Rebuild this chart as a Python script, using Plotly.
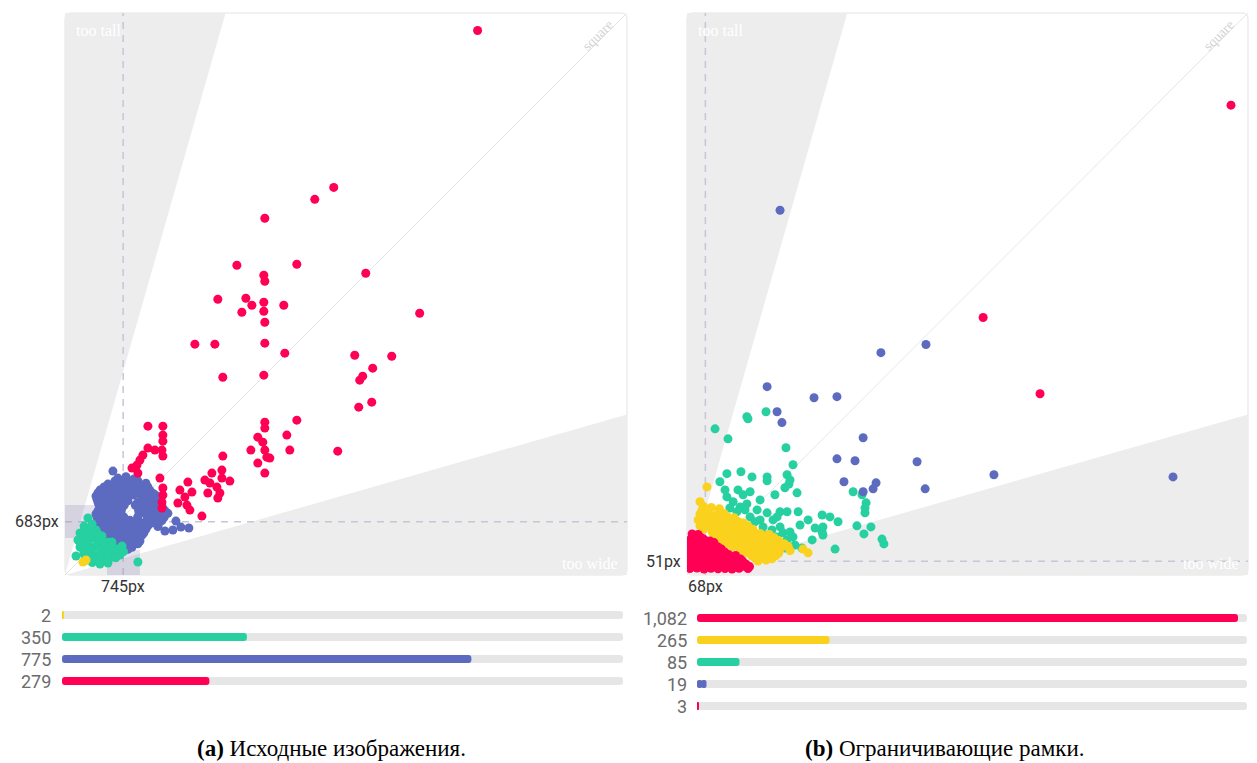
import plotly.graph_objects as go

W, H = 1257, 763


def px(x):
    return x / W


def py(y):
    return 1 - y / H


RED = "#ff0055"
BLUE = "#5c6bc0"
GREEN = "#26d0a0"
YELLOW = "#fad21e"
TRACK = "#e6e6e6"
WEDGE = "#ededed"
DASH = "#c9c4d8"

# ---------------- (a) original image sizes, width x height in px ----------------
a_range = 7200
a_median_w, a_median_h = 745, 683

a_yellow_w = [230, 269]
a_yellow_h = [166, 192]

a_green_w = [294, 243, 346, 192, 294, 397, 166, 269, 371, 474, 192, 294, 397, 499, 602,
             243, 346, 448, 550, 653, 730, 294, 397, 499, 602, 704, 448, 550, 934, 141,
             250, 340, 230, 320, 420, 200, 300, 450, 550, 240, 340, 500, 600, 680,
             260, 350, 450, 550, 650, 350, 450, 550, 650, 750]
a_green_h = [730, 627, 653, 538, 550, 576, 448, 448, 474, 499, 358, 358, 371, 397, 422,
             269, 269, 282, 307, 333, 371, 192, 192, 205, 230, 256, 141, 154, 166, 243,
             580, 600, 490, 510, 530, 400, 400, 440, 420, 310, 320, 350, 370, 330,
             230, 230, 240, 260, 290, 160, 170, 190, 220, 300]

a_blue_w = [678, 781, 883,
            550, 627, 730, 832, 934, 1037,
            448, 525, 602, 704, 806, 909, 1011, 1088,
            397, 499, 576, 678, 781, 883, 986, 1088, 1165,
            422, 525, 627, 704, 806, 934, 1037, 1139, 1216,
            448, 550, 653, 730, 935, 1062, 1165, 1254,
            397, 499, 602, 704, 950, 1011, 1114, 1216, 1318,
            422, 525, 627, 730, 832, 934, 1037, 1139, 1242,
            448, 550, 653, 755, 858, 960, 1062, 1190,
            499, 602, 704, 806, 909, 1011,
            550, 653, 755, 858, 960,
            627, 730, 832, 934,
            704, 806,
            640, 730, 832, 934,
            500, 576, 678, 781, 883, 986, 1062,
            422, 474, 550, 653, 755, 858, 960, 1050, 1130,
            410, 474, 576, 653, 730, 986, 1088, 1190,
            435, 499, 576, 678, 760, 900, 986, 1088, 1190, 1240,
            422, 525, 627, 720, 945, 1062, 1165, 1280,
            410, 474, 550, 653, 755, 930, 1062, 1165, 1270,
            435, 499, 602, 704, 806, 909, 1011, 1114, 1200,
            474, 576, 653, 755, 858, 960, 1037,
            525, 627, 704, 806, 909, 990,
            590, 678, 781, 883, 960,
            665, 755, 858,
            614, 1382, 1485, 1587, 1421, 1280]
a_blue_h = [1242, 1260, 1230,
            1165, 1150, 1180, 1170, 1155, 1175,
            1088, 1100, 1075, 1095, 1080, 1090, 1070, 1085,
            1011, 1020, 1000, 1015, 1005, 1025, 1010, 995, 1020,
            934, 945, 925, 940, 950, 930, 950, 935, 920,
            858, 865, 850, 858, 858, 845, 870, 855,
            781, 790, 775, 785, 781, 795, 780, 760, 790,
            704, 710, 695, 715, 700, 705, 690, 712, 698,
            627, 620, 635, 625, 640, 615, 630, 622,
            550, 560, 545, 555, 548, 540,
            474, 480, 468, 478, 470,
            397, 405, 392, 400,
            320, 330,
            1204, 1210, 1200, 1206,
            1127, 1120, 1132, 1125, 1130, 1122, 1128,
            1050, 1045, 1055, 1048, 1052, 1046, 1054, 1050, 1044,
            972, 978, 968, 975, 970, 976, 966, 974,
            896, 900, 892, 898, 896, 896, 894, 899, 893, 897,
            820, 825, 815, 820, 820, 822, 818, 824,
            742, 748, 738, 745, 742, 742, 740, 746, 739,
            666, 670, 662, 668, 664, 669, 663, 667, 661,
            588, 592, 585, 590, 586, 591, 587,
            512, 516, 509, 514, 510, 515,
            436, 440, 433, 438, 434,
            358, 362, 355,
            1331, 576, 614, 602, 691, 563]

a_red_w = [5286, 3443, 3200, 2560, 2202, 2970, 3853, 2547, 2560, 1958,
           2317, 2394, 2266, 2547, 2547, 2560, 2803, 4544, 1664, 1920,
           2560, 2816, 3712, 4186, 3942, 3814, 3776, 3930, 3763, 2022, 2547,
           1062, 1254, 1254, 1254, 1062, 1152, 1242, 1254, 998, 960,
           922, 858, 934, 1216, 1254, 1254, 1242, 1242, 1472, 1574,
           1626, 1536, 1446, 1562, 1600, 1754, 1792, 1882, 2010, 2010,
           1856, 1946, 1984, 1958, 1830, 2112, 2022, 2381, 2560, 2560,
           2470, 2534, 2560, 2586, 2624, 2470, 2560, 2970, 2842, 2880, 3494]
a_red_h = [6976, 4966, 4813, 4570, 3968, 3981, 3866, 3840, 3763, 3533,
           3546, 3456, 3366, 3494, 3379, 3238, 3456, 3354, 2957, 2957,
           2970, 2842, 2816, 2803, 2650, 2547, 2496, 2214, 2150, 2534, 2560,
           1907, 1907, 1792, 1715, 1626, 1600, 1600, 1523, 1536, 1472,
           1408, 1370, 1306, 1242, 1114, 1024, 934, 858, 1088, 1190,
           1062, 998, 922, 896, 832, 755, 1216, 1306, 1344, 1242,
           1178, 1126, 1050, 986, 1050, 1203, 1523, 1600, 1958, 1882,
           1766, 1702, 1600, 1510, 1498, 1434, 1306, 1984, 1792, 1600, 1587]

a_counts = [2, 350, 775, 279]
a_colors = [YELLOW, GREEN, BLUE, RED]
a_count_max = 1062

# ---------------- (b) bounding box sizes, width x height in px ----------------
b_range = 2080
b_median_w, b_median_h = 68, 51

b_green_w = [104, 152, 222, 226, 293, 367, 393, 148, 200, 241,
             297, 297, 371, 382, 378, 122, 189, 208, 148, 171,
             197, 222, 159, 185, 260, 234, 271, 297, 319, 345,
             334, 371, 282, 315, 345, 356, 382, 393, 371, 334,
             412, 449, 408, 326, 363, 501, 530, 560, 504, 501,
             504, 616, 649, 664, 660, 660, 630, 682, 656, 723,
             730, 549, 426, 141, 234, 271, 215, 252, 289, 326,
             363, 400, 464, 419, 475]
b_green_h = [541, 504, 586, 578, 604, 471, 408, 375, 382, 363,
             363, 349, 371, 352, 337, 345, 315, 297, 289, 271,
             252, 263, 248, 234, 241, 215, 204, 230, 204, 234,
             215, 234, 178, 167, 178, 156, 159, 141, 130, 141,
             234, 204, 304, 297, 323, 222, 215, 197, 178, 159,
             148, 308, 297, 267, 248, 230, 182, 178, 152, 133,
             115, 96, 100, 315, 308, 278, 241, 197, 148, 111,
             100, 111, 130, 185, 174]

b_yellow_w = [74, 48, 56, 449, 430, 60, 90, 120,
              48, 78, 108, 137,
              41, 70, 100, 130, 159, 189,
              48, 78, 108, 137, 167, 197, 226,
              93, 122, 152, 182, 211, 241, 271,
              115, 145, 174, 204, 234, 263, 293, 323,
              152, 182, 211, 241, 271, 300, 330, 360,
              197, 226, 256, 286, 315, 345, 382,
              241, 271, 300, 330,
              263, 293,
              60, 90, 120, 150, 175,
              55, 85, 115, 145, 175, 210,
              62, 92, 122, 152, 182, 212, 245,
              100, 130, 160, 190, 220, 250, 280, 305,
              130, 160, 190, 220, 250, 280, 310, 340,
              170, 200, 230, 260, 290, 320, 350, 375,
              220, 250, 280, 310, 340,
              255, 285, 315]
b_yellow_h = [326, 271, 241, 82, 96, 255, 250, 245,
              226, 230, 222, 228,
              204, 200, 208, 202, 206, 198,
              182, 186, 178, 184, 180, 176, 182,
              159, 163, 155, 161, 157, 160, 154,
              137, 141, 133, 139, 135, 140, 132, 138,
              115, 119, 111, 117, 113, 118, 110, 116,
              93, 97, 89, 95, 91, 96, 90,
              70, 74, 68, 72,
              52, 55,
              215, 217, 213, 216, 212,
              193, 195, 191, 194, 190, 192,
              170, 172, 168, 171, 167, 170, 169,
              148, 150, 146, 149, 145, 148, 147, 150,
              126, 128, 124, 127, 123, 126, 125, 128,
              104, 106, 102, 105, 101, 104, 103, 106,
              82, 84, 80, 83, 81,
              61, 63, 60]

b_red_w = [19, 41,
           11, 37, 63, 85,
           11, 37, 63, 89, 115,
           11, 37, 63, 89, 115, 141,
           11, 37, 63, 89, 115, 141, 167, 197,
           11, 37, 63, 89, 115, 141, 167, 193, 219,
           11, 37, 63, 89, 115, 141, 167, 193, 226,
           26, 52,
           24, 50, 76, 100,
           24, 50, 76, 102, 128,
           24, 50, 76, 102, 128, 154, 180,
           24, 50, 76, 102, 128, 154, 180, 206,
           24, 50, 76, 102, 128, 154, 180, 206, 232]
b_red_h = [152, 150,
           130, 128, 132, 126,
           108, 110, 106, 108, 104,
           85, 87, 83, 86, 82, 84,
           63, 65, 61, 64, 60, 62, 64, 60,
           41, 43, 39, 42, 40, 41, 38, 42, 40,
           24, 26, 22, 25, 23, 24, 22, 25, 24,
           141, 139,
           119, 121, 117, 120,
           97, 99, 95, 98, 96,
           74, 76, 72, 75, 73, 76, 72,
           52, 54, 50, 53, 51, 54, 50, 52,
           32, 34, 30, 33, 31, 34, 30, 32, 31]

b_blue_w = [345, 719, 886, 297, 471, 556, 334, 352, 653, 556,
            623, 853, 582, 653, 690, 701, 1138, 1802, 883]
b_blue_h = [1350, 823, 853, 697, 656, 660, 604, 564, 508, 430,
            423, 419, 345, 308, 319, 341, 371, 363, 319]

b_large_w = [2017, 1098, 1309]
b_large_h = [1739, 953, 671]

b_counts = [1082, 265, 85, 19, 3]
b_colors = [RED, YELLOW, GREEN, BLUE, RED]
b_count_max = 1100

# aspect ratio beyond which a box counts as too tall / too wide
EXTREME_RATIO = 3.5

# ---------------- screen layout of the two panels ----------------
A_X0, A_X1 = 65, 627
B_X0, B_X1 = 687, 1248
P_Y0, P_Y1 = 13, 575

fig = go.Figure()


def scatter(xs, ys, color, xa, ya):
    fig.add_trace(go.Scatter(
        x=xs, y=ys, mode="markers", xaxis=xa, yaxis=ya,
        marker=dict(color=color, size=9, line=dict(width=0)),
        hoverinfo="skip", showlegend=False,
    ))


# panel (a)
scatter(a_blue_w, a_blue_h, BLUE, "x", "y")
scatter(a_green_w, a_green_h, GREEN, "x", "y")
scatter(a_yellow_w, a_yellow_h, YELLOW, "x", "y")
scatter(a_red_w, a_red_h, RED, "x", "y")

# panel (b)
scatter(b_green_w, b_green_h, GREEN, "x2", "y2")
scatter(b_yellow_w, b_yellow_h, YELLOW, "x2", "y2")
scatter(b_red_w, b_red_h, RED, "x2", "y2")
scatter(b_blue_w, b_blue_h, BLUE, "x2", "y2")
scatter(b_large_w, b_large_h, RED, "x2", "y2")


# count bars: each bar is built from two halves so that both ends get rounded
def pill(values, color, xa, ya, rows):
    for base_frac, len_frac in ((0.55, -0.55), (0.45, 0.55)):
        fig.add_trace(go.Bar(
            orientation="h", y=rows,
            x=[v * len_frac for v in values],
            base=[v * base_frac for v in values],
            width=0.36, xaxis=xa, yaxis=ya,
            marker=dict(color=color, cornerradius=4, line=dict(width=0)),
            hoverinfo="skip", showlegend=False,
        ))


def count_bars(counts, colors, cmax, xa, ya):
    rows = list(range(len(counts)))
    pill([cmax] * len(counts), TRACK, xa, ya, rows)
    for i, (v, c) in enumerate(zip(counts, colors)):
        pill([v], c, xa, ya, [i])


count_bars(a_counts, a_colors, a_count_max, "x3", "y3")
count_bars(b_counts, b_colors, b_count_max, "x4", "y4")

shapes = []
annotations = []


def rounded_panel(x0, y0, x1, y1, r=6):
    pts = (f"M {px(x0 + r)},{py(y0)} L {px(x1 - r)},{py(y0)} "
           f"Q {px(x1)},{py(y0)} {px(x1)},{py(y0 + r)} "
           f"L {px(x1)},{py(y1 - r)} Q {px(x1)},{py(y1)} {px(x1 - r)},{py(y1)} "
           f"L {px(x0 + r)},{py(y1)} Q {px(x0)},{py(y1)} {px(x0)},{py(y1 - r)} "
           f"L {px(x0)},{py(y0 + r)} Q {px(x0)},{py(y0)} {px(x0 + r)},{py(y0)} Z")
    return dict(type="path", xref="paper", yref="paper", path=pts,
                fillcolor="white", line=dict(color="#e3e3e3", width=1), layer="below")


def panel_decor(R, xa, ya, mw, mh):
    t = R / EXTREME_RATIO
    shapes.append(dict(type="path", xref=xa, yref=ya, layer="below",
                       path=f"M 0,0 L {t},{R} L 0,{R} Z",
                       fillcolor=WEDGE, line=dict(width=0)))
    shapes.append(dict(type="path", xref=xa, yref=ya, layer="below",
                       path=f"M 0,0 L {R},{t} L {R},0 Z",
                       fillcolor=WEDGE, line=dict(width=0)))
    shapes.append(dict(type="line", xref=xa, yref=ya, layer="below",
                       x0=0, y0=0, x1=R, y1=R, line=dict(color="#e6e6e6", width=1)))
    shapes.append(dict(type="line", xref=xa, yref=ya, layer="below",
                       x0=mw, y0=0, x1=mw, y1=R, line=dict(color=DASH, width=1.5, dash="7px,6px")))
    shapes.append(dict(type="line", xref=xa, yref=ya, layer="below",
                       x0=0, y0=mh, x1=R, y1=mh, line=dict(color=DASH, width=1.5, dash="7px,6px")))


shapes.append(rounded_panel(A_X0, P_Y0, A_X1, P_Y1))
shapes.append(rounded_panel(B_X0, P_Y0, B_X1, P_Y1))
panel_decor(a_range, "x", "y", a_median_w, a_median_h)
panel_decor(b_range, "x2", "y2", b_median_w, b_median_h)

# spread bands around the medians in panel (a)
BAND = "rgba(120,108,170,0.20)"
shapes.append(dict(type="rect", xref="x", yref="y", layer="below",
                   x0=0, x1=380, y0=474, y1=896, fillcolor=BAND, line=dict(width=0)))
shapes.append(dict(type="rect", xref="x", yref="y", layer="below",
                   x0=538, x1=960, y0=0, y1=320, fillcolor=BAND, line=dict(width=0)))

CORNER_FONT = dict(family="Liberation Serif", size=16, color="white")
for x0, x1 in ((A_X0, A_X1), (B_X0, B_X1)):
    annotations.append(dict(text="too tall", xref="paper", yref="paper",
                            x=px(x0 + 9), y=py(30), xanchor="left", yanchor="middle",
                            showarrow=False, font=CORNER_FONT))
    annotations.append(dict(text="too wide", xref="paper", yref="paper",
                            x=px(x1 - 7), y=py(563), xanchor="right", yanchor="middle",
                            showarrow=False, font=CORNER_FONT))
    annotations.append(dict(text="square", xref="paper", yref="paper",
                            x=px(x1 - 29), y=py(36), textangle=-45,
                            xanchor="center", yanchor="middle", showarrow=False,
                            font=dict(family="Liberation Serif", size=14, color="#d4d4d4")))

LBL = dict(family="Roboto", size=16, color="#333333")
annotations += [
    dict(text=f"{a_median_h}px", xref="paper", yref="y", x=px(61), y=a_median_h,
         xanchor="right", yanchor="middle", showarrow=False, font=LBL),
    dict(text=f"{a_median_w}px", xref="x", yref="paper", x=a_median_w, y=py(586),
         xanchor="center", yanchor="middle", showarrow=False, font=LBL),
    dict(text=f"{b_median_h}px", xref="paper", yref="y2", x=px(683), y=b_median_h,
         xanchor="right", yanchor="middle", showarrow=False, font=LBL),
    dict(text=f"{b_median_w}px", xref="x2", yref="paper", x=b_median_w, y=py(586),
         xanchor="center", yanchor="middle", showarrow=False, font=LBL),
]

CNT = dict(family="Roboto", size=18, color="#6b6b6b")
for i, v in enumerate(a_counts):
    annotations.append(dict(text=f"{v:,}", xref="paper", yref="y3", x=px(53), y=i,
                            xanchor="right", yanchor="middle", showarrow=False, font=CNT))
for i, v in enumerate(b_counts):
    annotations.append(dict(text=f"{v:,}", xref="paper", yref="y4", x=px(689), y=i,
                            xanchor="right", yanchor="middle", showarrow=False, font=CNT))

CAP = dict(family="Liberation Serif", size=23, color="black")
annotations.append(dict(text="<b>(a)</b> Исходные изображения.", xref="paper", yref="paper",
                        x=px(331), y=py(748), xanchor="center", yanchor="middle",
                        showarrow=False, font=CAP))
annotations.append(dict(text="<b>(b)</b> Ограничивающие рамки.", xref="paper", yref="paper",
                        x=px(945), y=py(748), xanchor="center", yanchor="middle",
                        showarrow=False, font=CAP))

hidden = dict(visible=False, showgrid=False, zeroline=False, fixedrange=True)
fig.update_layout(
    width=W, height=H,
    margin=dict(l=0, r=0, t=0, b=0),
    paper_bgcolor="white", plot_bgcolor="rgba(0,0,0,0)",
    barmode="overlay", hovermode=False, showlegend=False,
    xaxis=dict(domain=[px(A_X0), px(A_X1)], range=[0, a_range], **hidden),
    yaxis=dict(domain=[py(P_Y1), py(P_Y0)], range=[0, a_range], **hidden),
    xaxis2=dict(domain=[px(B_X0), px(B_X1)], range=[0, b_range], **hidden),
    yaxis2=dict(domain=[py(P_Y1), py(P_Y0)], range=[0, b_range], **hidden),
    xaxis3=dict(domain=[px(62), px(623)], range=[0, a_count_max], **hidden),
    yaxis3=dict(domain=[py(692), py(604)], range=[len(a_counts) - 0.5, -0.5], **hidden),
    xaxis4=dict(domain=[px(697), px(1247)], range=[0, b_count_max], **hidden),
    yaxis4=dict(domain=[py(717), py(607)], range=[len(b_counts) - 0.5, -0.5], **hidden),
    shapes=shapes,
    annotations=annotations,
)

fig.write_html("out.html")
